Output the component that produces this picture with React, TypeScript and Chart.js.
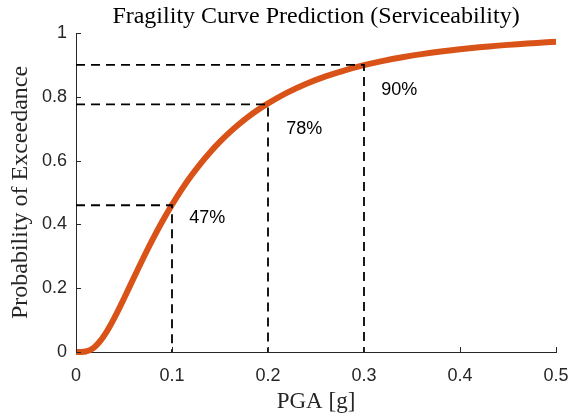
import React, { useEffect, useRef } from "react";
import { Chart, registerables } from "chart.js";

Chart.register(...registerables);

// PGA values [g] and probability of exceedance
const pgaValues = [0, 0.005, 0.01, 0.015, 0.02, 0.025, 0.03, 0.035, 0.04, 0.045, 0.05, 0.06, 0.07, 0.08, 0.09, 0.1, 0.11, 0.12, 0.13, 0.14, 0.15, 0.16, 0.17, 0.18, 0.19, 0.2, 0.22, 0.24, 0.26, 0.28, 0.3, 0.32, 0.34, 0.36, 0.38, 0.4, 0.42, 0.44, 0.46, 0.48, 0.5];
const probValues = [0, 0.0001, 0.0015, 0.0068, 0.0175, 0.0337, 0.0547, 0.0795, 0.1072, 0.1369, 0.1679, 0.2312, 0.2939, 0.3538, 0.4099, 0.4616, 0.5091, 0.5524, 0.5916, 0.6272, 0.6593, 0.6884, 0.7146, 0.7384, 0.7599, 0.7794, 0.8131, 0.8409, 0.8639, 0.8831, 0.8992, 0.9127, 0.9241, 0.9338, 0.9421, 0.9491, 0.9552, 0.9604, 0.965, 0.9689, 0.9723];

// Marked points (dashed guide lines)
const markPga = [0.1, 0.2, 0.3];
const markProb = [0.46, 0.776, 0.9];
const markLabels = ["47%", "78%", "90%"];
const labelX = [0.118, 0.219, 0.318];
const labelY = [0.42, 0.70, 0.82];

const xTicks = [0, 0.1, 0.2, 0.3, 0.4, 0.5];
const yTicks = [0, 0.2, 0.4, 0.6, 0.8, 1];

const titleText = "Fragility Curve Prediction (Serviceability)";
const xLabel = "PGA [g]";
const yLabel = "Probability of Exceedance";

const AXIS_COLOR = "#262626";
const SERIF = "'Liberation Serif', 'Times New Roman', serif";
const SANS = "'Liberation Sans', Arial, sans-serif";

const decorPlugin = {
  id: "decor",
  afterDraw(chart: any) {
    const ctx = chart.ctx;
    const xs = chart.scales.x;
    const ys = chart.scales.y;
    const area = chart.chartArea;
    ctx.save();
    // inward ticks
    ctx.strokeStyle = AXIS_COLOR;
    ctx.lineWidth = 1;
    const tl = 5;
    xTicks.forEach((v) => {
      const px = Math.round(xs.getPixelForValue(v)) + 0.5;
      ctx.beginPath();
      ctx.moveTo(px, area.bottom);
      ctx.lineTo(px, area.bottom - tl);
      ctx.stroke();
    });
    yTicks.forEach((v) => {
      const py = Math.round(ys.getPixelForValue(v)) + 0.5;
      ctx.beginPath();
      ctx.moveTo(area.left, py);
      ctx.lineTo(area.left + tl, py);
      ctx.stroke();
    });
    // annotation labels
    ctx.fillStyle = "#000";
    ctx.font = "18px " + SANS;
    ctx.textAlign = "left";
    ctx.textBaseline = "middle";
    markLabels.forEach((t, i) => {
      ctx.fillText(t, xs.getPixelForValue(labelX[i]), ys.getPixelForValue(labelY[i]));
    });
    const cx = (area.left + area.right) / 2;
    const cy = (area.top + area.bottom) / 2;
    // title
    ctx.textAlign = "center";
    ctx.textBaseline = "alphabetic";
    ctx.fillStyle = "#000";
    ctx.font = "24px " + SERIF;
    ctx.fillText(titleText, cx, 23);
    // x label
    ctx.fillStyle = AXIS_COLOR;
    ctx.font = "23px " + SERIF;
    ctx.fillText(xLabel, cx, 408);
    // y label
    ctx.font = "24px " + SERIF;
    ctx.translate(27, cy);
    ctx.rotate(-Math.PI / 2);
    ctx.fillText(yLabel, 0, 0);
    ctx.restore();
  },
};

export default function App() {
  const ref = useRef<HTMLCanvasElement>(null);
  useEffect(() => {
    if (!ref.current) return;
    const guideSets = markPga.map((x, i) => ({
      type: "line" as const,
      data: [
        { x: 0, y: markProb[i] },
        { x: x, y: markProb[i] },
        { x: x, y: 0 },
      ],
      borderColor: "#000",
      borderWidth: 1.8,
      borderDash: [9, 6],
      pointRadius: 0,
      fill: false,
      order: 0,
    }));
    const chart = new Chart(ref.current, {
      type: "line",
      data: {
        datasets: [
          ...guideSets,
          {
            data: pgaValues.map((x, i) => ({ x, y: probValues[i] })),
            borderColor: "#D95319",
            borderWidth: 6,
            borderCapStyle: "butt",
            pointRadius: 0,
            tension: 0.3,
            fill: false,
            clip: 10,
            order: 1,
          } as any,
        ],
      },
      options: {
        responsive: false,
        animation: false,
        events: [],
        layout: { padding: { top: 33, right: 13, left: 0, bottom: 0 } },
        plugins: {
          legend: { display: false },
          tooltip: { enabled: false },
          title: { display: false },
        },
        scales: {
          x: {
            type: "linear",
            min: 0,
            max: 0.5,
            afterFit: (s: any) => {
              s.height = 64;
              s.paddingRight = 0;
              s.paddingLeft = 0;
            },
            afterBuildTicks: (s: any) => {
              s.ticks = xTicks.map((v) => ({ value: v }));
            },
            grid: { display: false, drawTicks: false },
            border: { display: true, color: AXIS_COLOR, width: 1 },
            ticks: {
              color: AXIS_COLOR,
              font: { family: SANS, size: 18 },
              padding: 13,
              maxRotation: 0,
              callback: (v: any) => String(v),
            },
          },
          y: {
            type: "linear",
            min: 0,
            max: 1,
            afterFit: (s: any) => {
              s.width = 76;
              s.paddingTop = 0;
              s.paddingBottom = 0;
            },
            afterBuildTicks: (s: any) => {
              s.ticks = yTicks.map((v) => ({ value: v }));
            },
            grid: { display: false, drawTicks: false },
            border: { display: true, color: AXIS_COLOR, width: 1 },
            ticks: {
              color: AXIS_COLOR,
              font: { family: SANS, size: 18 },
              padding: 9,
              callback: (v: any) => String(v),
            },
          },
        },
      },
      plugins: [decorPlugin],
    });
    return () => chart.destroy();
  }, []);
  return (
    <div style={{ position: "absolute", left: 0, top: 0, width: 569, height: 416, background: "#fff" }}>
      <canvas ref={ref} width={569} height={416} style={{ width: 569, height: 416, display: "block" }} />
    </div>
  );
}
